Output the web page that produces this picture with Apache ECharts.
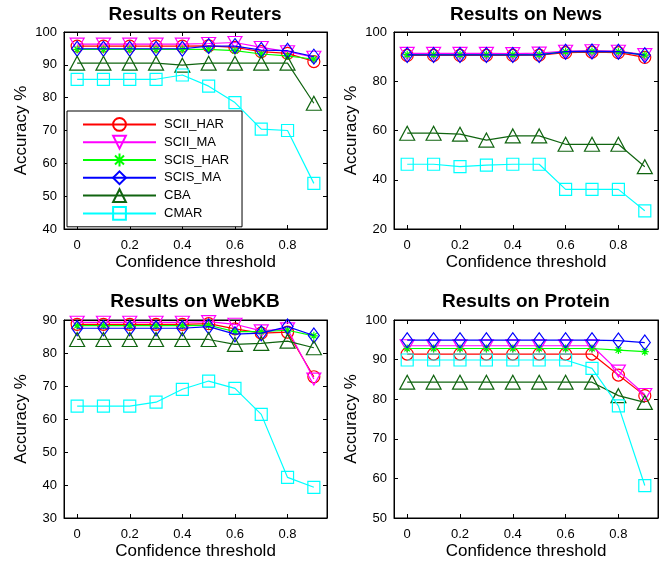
<!DOCTYPE html>
<html>
<head>
<meta charset="utf-8">
<script src="https://cdn.jsdelivr.net/npm/echarts@6/dist/echarts.min.js"></script>
<style>
  html, body { margin: 0; padding: 0; background: #fff; }
  #chart { width: 672px; height: 563px; }
</style>
</head>
<body>
<div id="chart"></div>
<script>
// confidence thresholds (x values)
var thresholds = [0, 0.1, 0.2, 0.3, 0.4, 0.5, 0.6, 0.7, 0.8, 0.9];
var xTickValues = [0, 0.2, 0.4, 0.6, 0.8];
var seriesNames = ['SCII_HAR', 'SCII_MA', 'SCIS_HAR', 'SCIS_MA', 'CBA', 'CMAR'];
var panelTitles = ['Results on Reuters', 'Results on News', 'Results on WebKB', 'Results on Protein'];

// Reuters
var reutersSciiHar = [95.7, 95.7, 95.7, 95.7, 95.7, 95.8, 95.3, 94.0, 93.5, 91.0];
var reutersSciiMa = [96.3, 96.3, 96.3, 96.3, 96.3, 96.5, 96.8, 95.3, 94.0, 92.3];
var reutersScisHar = [94.7, 94.7, 94.7, 94.7, 94.7, 94.7, 94.3, 93.3, 92.7, 91.7];
var reutersScisMa = [94.9, 94.9, 94.9, 94.9, 94.9, 95.7, 95.7, 94.5, 94.3, 92.5];
var reutersCba = [90.5, 90.5, 90.5, 90.5, 89.9, 90.5, 90.5, 90.5, 90.5, 78.3];
var reutersCmar = [85.6, 85.6, 85.6, 85.6, 86.9, 83.5, 78.5, 70.4, 70.0, 53.9];

// News
var newsSciiHar = [90.5, 90.5, 90.5, 90.5, 90.5, 90.6, 91.6, 91.8, 91.6, 89.7];
var newsSciiMa = [91.3, 91.3, 91.3, 91.3, 91.2, 91.4, 92.2, 92.4, 92.2, 90.8];
var newsScisHar = [90.8, 90.8, 90.8, 90.8, 90.8, 90.8, 92.0, 92.1, 92.0, 90.6];
var newsScisMa = [90.7, 90.7, 90.7, 90.7, 90.7, 90.7, 92.0, 92.1, 92.0, 90.6];
var newsCba = [58.9, 58.9, 58.5, 56.1, 57.8, 57.8, 54.4, 54.4, 54.4, 45.3];
var newsCmar = [46.3, 46.3, 45.3, 45.9, 46.3, 46.3, 36.1, 36.1, 36.1, 27.4];

// WebKB
var webkbSciiHar = [88.7, 88.7, 88.7, 88.7, 88.7, 88.9, 87.3, 86.0, 86.3, 72.8];
var webkbSciiMa = [89.3, 89.3, 89.3, 89.3, 89.3, 89.5, 88.7, 86.7, 87.3, 72.1];
var webkbScisHar = [88.3, 88.3, 88.3, 88.3, 88.3, 88.4, 86.5, 86.5, 86.9, 85.2];
var webkbScisMa = [87.5, 87.5, 87.5, 87.5, 87.5, 88.0, 85.7, 86.0, 88.0, 85.3];
var webkbCba = [84.1, 84.1, 84.1, 84.1, 84.1, 84.1, 82.6, 82.9, 83.6, 81.6];
var webkbCmar = [63.9, 63.9, 63.9, 65.1, 69.0, 71.5, 69.3, 61.4, 42.3, 39.3];

// Protein
var proteinSciiHar = [91.4, 91.4, 91.4, 91.4, 91.4, 91.4, 91.4, 91.4, 86.1, 80.9];
var proteinSciiMa = [93.5, 93.5, 93.5, 93.5, 93.5, 93.5, 93.5, 93.5, 87.1, 81.2];
var proteinScisHar = [92.8, 92.8, 92.8, 92.8, 92.8, 92.8, 92.8, 92.8, 92.4, 92.0];
var proteinScisMa = [94.9, 94.9, 94.9, 94.9, 94.9, 94.9, 94.9, 94.9, 94.8, 94.3];
var proteinCba = [84.3, 84.3, 84.3, 84.3, 84.3, 84.3, 84.3, 84.3, 80.9, 79.2];
var proteinCmar = [89.9, 89.9, 89.9, 89.9, 89.9, 89.9, 89.9, 87.8, 78.3, 58.2];

// y axis ranges per panel
var yMins = [40, 20, 30, 50];
var yMaxs = [100, 100, 90, 100];
var yIntervals = [10, 20, 10, 10];

var panelData = [
    [reutersSciiHar, reutersSciiMa, reutersScisHar, reutersScisMa, reutersCba, reutersCmar],
    [newsSciiHar, newsSciiMa, newsScisHar, newsScisMa, newsCba, newsCmar],
    [webkbSciiHar, webkbSciiMa, webkbScisHar, webkbScisMa, webkbCba, webkbCmar],
    [proteinSciiHar, proteinSciiMa, proteinScisHar, proteinScisMa, proteinCba, proteinCmar]
];

var fontFam = '"Liberation Sans", Arial, Helvetica, sans-serif';
var colors = ['#ff0000', '#ff00ff', '#00ff00', '#0000ff', '#106410', '#00ffff'];
var symbols = [
    'circle',
    'path://M0,0L10,0L5,10Z',
    'path://M5,0L5,10M0,5L10,5M1.5,1.5L8.5,8.5M1.5,8.5L8.5,1.5',
    'diamond',
    'triangle',
    'rect'
];
var symbolSizes = [12, [14, 12], 8, [11, 15], [15, 14], 12];

// plot boxes [left, top, width, height]
var boxes = [
    [64, 32, 263, 197],
    [394, 32, 264, 197],
    [64, 320, 263, 198],
    [394, 320, 264, 198]
];
var titleCenters = [[195, 5], [526, 5], [195, 292], [526, 292]];

function init() {
    var grids = [], xAxes = [], yAxes = [], series = [], titles = [];
    boxes.forEach(function (b, p) {
        grids.push({
            left: b[0], top: b[1], width: b[2], height: b[3],
            show: true, backgroundColor: '#fff', borderColor: '#000', borderWidth: 1
        });
        titles.push({
            text: panelTitles[p],
            left: titleCenters[p][0], top: titleCenters[p][1],
            textAlign: 'center', padding: 0,
            textStyle: {fontFamily: fontFam, fontSize: 19, fontWeight: 'bold', color: '#000'}
        });
        // bottom axis
        xAxes.push({
            type: 'value', gridIndex: p, position: 'bottom',
            min: -0.05, max: 0.95,
            name: 'Confidence threshold', nameLocation: 'middle', nameGap: 25,
            nameTextStyle: {fontFamily: fontFam, fontSize: 17, color: '#000'},
            axisLine: {onZero: false, lineStyle: {color: '#000', width: 1}},
            axisTick: {inside: true, length: 4, customValues: xTickValues, lineStyle: {color: '#000'}},
            axisLabel: {customValues: xTickValues, margin: 10, fontFamily: fontFam, fontSize: 13, color: '#000'},
            splitLine: {show: false}
        });
        // top mirror axis for the box ticks
        xAxes.push({
            type: 'value', gridIndex: p, position: 'top',
            min: -0.05, max: 0.95,
            axisLine: {onZero: false, lineStyle: {color: '#000', width: 1}},
            axisTick: {inside: true, length: 4, customValues: xTickValues, lineStyle: {color: '#000'}},
            axisLabel: {show: false},
            splitLine: {show: false}
        });
        yAxes.push({
            type: 'value', gridIndex: p, position: 'left',
            min: yMins[p], max: yMaxs[p], interval: yIntervals[p],
            name: 'Accuracy %', nameLocation: 'middle', nameGap: 34,
            nameTextStyle: {fontFamily: fontFam, fontSize: 17, color: '#000'},
            axisLine: {show: true, onZero: false, lineStyle: {color: '#000', width: 1}},
            axisTick: {show: true, inside: true, length: 4, lineStyle: {color: '#000'}},
            axisLabel: {margin: 7, fontFamily: fontFam, fontSize: 13, color: '#000'},
            splitLine: {show: false}
        });
        yAxes.push({
            type: 'value', gridIndex: p, position: 'right',
            min: yMins[p], max: yMaxs[p], interval: yIntervals[p],
            axisLine: {show: true, onZero: false, lineStyle: {color: '#000', width: 1}},
            axisTick: {show: true, inside: true, length: 4, lineStyle: {color: '#000'}},
            axisLabel: {show: false},
            splitLine: {show: false}
        });
        panelData[p].forEach(function (vals, s) {
            series.push({
                name: seriesNames[s],
                type: 'line',
                xAxisIndex: 2 * p,
                yAxisIndex: 2 * p,
                data: thresholds.map(function (t, i) { return [t, vals[i]]; }),
                symbol: symbols[s],
                symbolSize: symbolSizes[s],
                showSymbol: true,
                lineStyle: {color: colors[s], width: 1.2},
                itemStyle: {color: 'rgba(255,255,255,0)', borderColor: colors[s], borderWidth: 1.2},
                emphasis: {disabled: true},
                z: 2 + s
            });
        });
    });

    var option = {
        animation: false,
        backgroundColor: '#fff',
        title: titles,
        grid: grids,
        xAxis: xAxes,
        yAxis: yAxes,
        legend: {
            data: seriesNames,
            orient: 'vertical',
            left: 67, top: 111,
            padding: [6, 13, 6, 15],
            itemWidth: 73, itemHeight: 16, itemGap: 3,
            backgroundColor: '#fff',
            borderColor: '#000', borderWidth: 1,
            selectedMode: false,
            textStyle: {fontFamily: fontFam, fontSize: 13, color: '#000', padding: [0, 0, 0, 3]}
        },
        series: series
    };

    var chart = echarts.init(document.getElementById('chart'), null, {renderer: 'canvas'});
    chart.setOption(option);
}

init();
</script>
</body>
</html>
